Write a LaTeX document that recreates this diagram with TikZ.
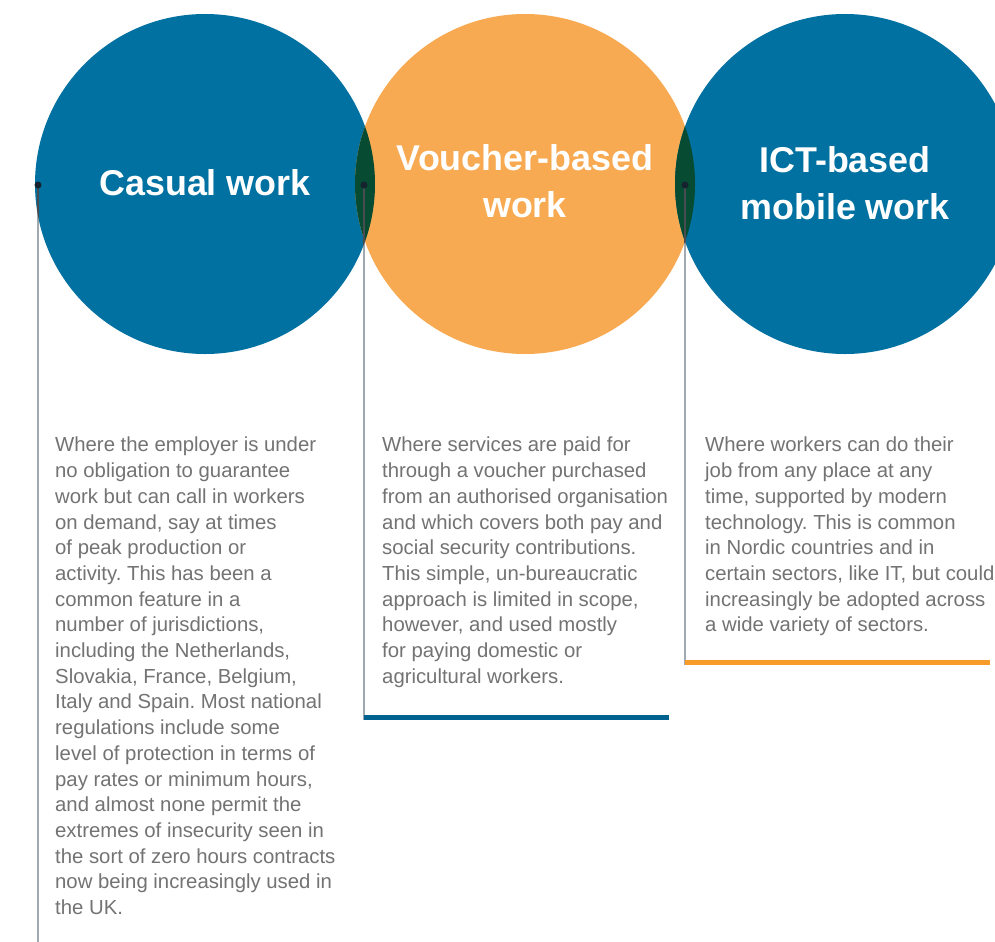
\documentclass[tikz,border=0pt]{standalone}
\usepackage{fontspec}
\setmainfont{Liberation Sans}
\frenchspacing
\definecolor{cblue}{RGB}{0,113,161}
\definecolor{corange}{RGB}{248,170,82}
\definecolor{clens}{RGB}{7,75,50}
\definecolor{barblue}{RGB}{0,98,143}
\definecolor{barorange}{RGB}{247,155,42}
\definecolor{txtgray}{RGB}{115,115,115}
\definecolor{linegray}{RGB}{160,168,176}
\definecolor{dotcol}{RGB}{20,35,45}
\tikzset{
  titletext/.style={text=white, font=\fontsize{36}{47}\selectfont\bfseries, align=center, inner sep=0},
  bodytext/.style={text=txtgray, font=\fontsize{20.4}{25.8}\selectfont, align=left, anchor=north west, inner sep=0},
  dotnode/.style={circle, fill=dotcol, inner sep=0, minimum size=7bp},
  vline/.style={draw=linegray, line width=1.6bp},
  vlinedark/.style={draw=black, draw opacity=0.55, line width=1.6bp},
  bar/.style={line width=5bp},
}
\begin{document}
\begin{tikzpicture}[x=1bp,y=-1bp]
\useasboundingbox (0,0) rectangle (995,942);
\clip (0,0) rectangle (995,942);
\fill[white] (0,0) rectangle (995,942);
\coordinate (c1) at (205,184);
\coordinate (c2) at (525,184);
\coordinate (c3) at (845,184);
\fill[cblue] (c1) circle (170bp);
\fill[corange] (c2) circle (170bp);
\fill[cblue] (c3) circle (170bp);
\begin{scope}
  \clip (c1) circle (170bp);
  \fill[clens] (c2) circle (170bp);
\end{scope}
\begin{scope}
  \clip (c3) circle (170bp);
  \fill[clens] (c2) circle (170bp);
\end{scope}
% connectors
\coordinate (e1) at (38,942);
\coordinate (e2) at (364,720);
\coordinate (e3) at (685,665);
\coordinate (s1) at (38,185);
\coordinate (s2) at (364,185);
\coordinate (s3) at (685,185);
\draw[vline] (s1) -- (e1);
\draw[vline] (s2) -- (e2);
\draw[vline] (s3) -- (e3);
\begin{scope}
  \clip (c1) circle (170bp) (c2) circle (170bp) (c3) circle (170bp);
  \draw[vlinedark] (s1) -- (e1);
  \draw[vlinedark] (s2) -- (e2);
  \draw[vlinedark] (s3) -- (e3);
\end{scope}
\node[dotnode] (d1) at (s1) {};
\node[dotnode] (d2) at (s2) {};
\node[dotnode] (d3) at (s3) {};
% bars
\coordinate (b2a) at (364,717.5);
\coordinate (b2b) at (669,717.5);
\coordinate (b3a) at (685,662.5);
\coordinate (b3b) at (990,662.5);
\draw[bar, barblue] (b2a) -- (b2b);
\draw[bar, barorange] (b3a) -- (b3b);
% titles
\node[titletext] (t1) at (205,183) {Casual work};
\node[titletext] (t2) at (525,181) {Voucher-based\\work};
\node[titletext] (t3) at (845,183) {ICT-based\\mobile work};
% body texts
\node[bodytext] (p1) at (55,437) {Where the employer is under\\
no obligation to guarantee\\
work but can call in workers\\
on demand, say at times\\
of peak production or\\
activity. This has been a\\
common feature in a\\
number of jurisdictions,\\
including the Netherlands,\\
Slovakia, France, Belgium,\\
Italy and Spain. Most national\\
regulations include some\\
level of protection in terms of\\
pay rates or minimum hours,\\
and almost none permit the\\
extremes of insecurity seen in\\
the sort of zero hours contracts\\
now being increasingly used in\\
the UK.};
\node[bodytext] (p2) at (382,437) {Where services are paid for\\
through a voucher purchased\\
from an authorised organisation\\
and which covers both pay and\\
social security contributions.\\
This simple, un-bureaucratic\\
approach is limited in scope,\\
however, and used mostly\\
for paying domestic or\\
agricultural workers.};
\node[bodytext] (p3) at (705,437) {Where workers can do their\\
job from any place at any\\
time, supported by modern\\
technology. This is common\\
in Nordic countries and in\\
certain sectors, like IT, but could\\
increasingly be adopted across\\
a wide variety of sectors.};
\end{tikzpicture}
\end{document}
